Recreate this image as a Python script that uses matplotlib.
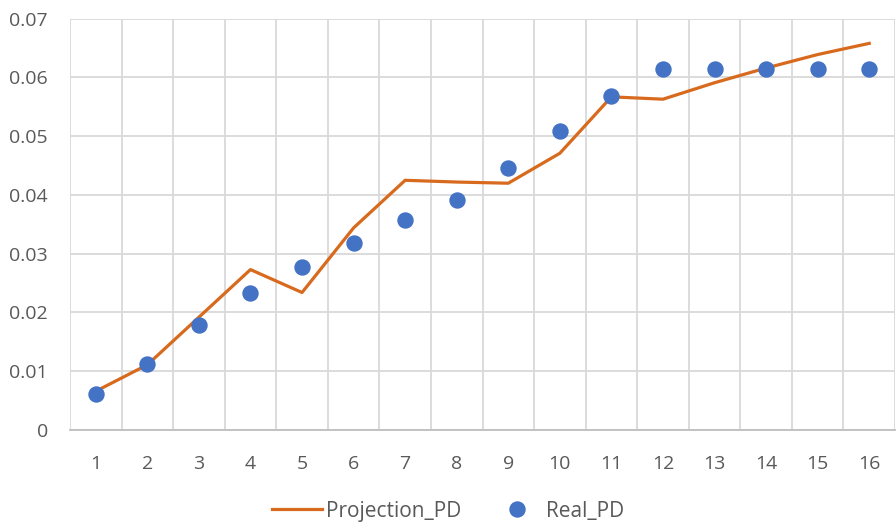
import numpy as np
import matplotlib.pyplot as plt
from matplotlib.ticker import FixedLocator

plt.rcParams['font.family'] = ['Open Sans', 'DejaVu Sans']

# data
periods = list(range(1, 17))
projection_pd = [0.0066, 0.0111, 0.0192, 0.0273, 0.0234, 0.0344, 0.0425, 0.0422,
                 0.0420, 0.0471, 0.0567, 0.0563, 0.0591, 0.0616, 0.0639, 0.0658]
real_pd = [0.0062, 0.0112, 0.0179, 0.0234, 0.0278, 0.0319, 0.0357, 0.0391,
           0.0446, 0.0509, 0.0568, 0.0615, 0.0615, 0.0615, 0.0615, 0.0615]
y_ticks = [0, 0.01, 0.02, 0.03, 0.04, 0.05, 0.06, 0.07]
y_labels = ['0', '0.01', '0.02', '0.03', '0.04', '0.05', '0.06', '0.07']

text_color = '#595959'
grid_color = '#d9d9d9'

fig = plt.figure(figsize=(8.96, 5.24), dpi=100)
ax = fig.add_axes([70 / 896, 1 - 430 / 524, 825 / 896, (430 - 18.7) / 524])

ax.plot(periods, projection_pd, color='#d86a1e', lw=2.3, label='Projection_PD', zorder=3)
ax.plot(periods, real_pd, 'o', color='#4472c4', ms=10.8, label='Real_PD', zorder=4)

ax.set_xlim(0.5, 16.5)
ax.set_ylim(0, 0.07)
ax.set_xticks(periods)
ax.set_yticks(y_ticks)
ax.set_yticklabels(y_labels)
ax.xaxis.set_minor_locator(FixedLocator(np.arange(0.5, 17, 1)))

ax.grid(which='minor', axis='x', color=grid_color, lw=1.3)
ax.grid(which='major', axis='y', color=grid_color, lw=1.3)
ax.set_axisbelow(True)

for s in ['top', 'right', 'left']:
    ax.spines[s].set_visible(False)
ax.spines['bottom'].set_color('#bfbfbf')
ax.spines['bottom'].set_linewidth(1.3)

ax.tick_params(which='both', length=0, labelcolor=text_color, labelsize=14)
ax.tick_params(axis='x', pad=18)
ax.tick_params(axis='y', pad=16)

fig.legend(loc='center', bbox_to_anchor=(0.5, 1 - 511 / 524), ncol=2, frameon=False,
           fontsize=15, labelcolor=text_color, handlelength=2.4, columnspacing=1.5,
           handletextpad=0.2)

fig.savefig('out.png', dpi=100)
